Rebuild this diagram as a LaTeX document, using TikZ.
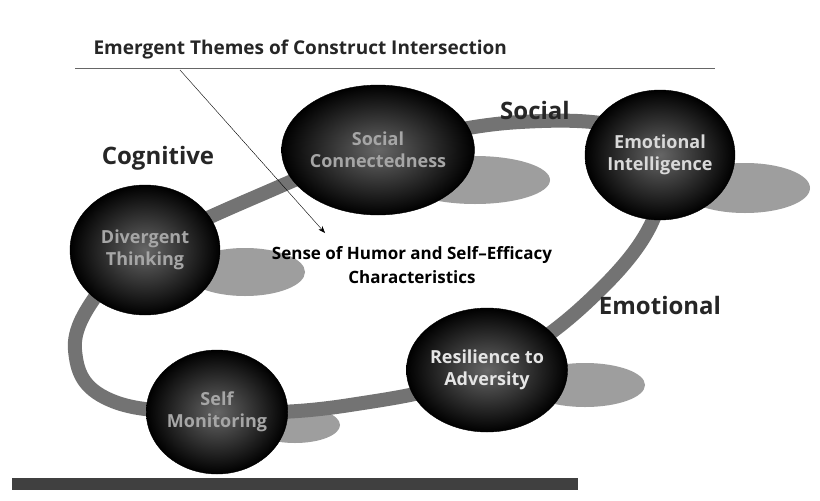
\documentclass[tikz,border=0pt]{standalone}
\usepackage{fontspec}
\setmainfont{Open Sans}
\tikzset{
  ball/.style={ellipse,minimum width=150pt,minimum height=130pt,inner sep=0pt,inner color=gray!80!black,outer color=black,draw=black,align=center,font=\fontsize{18}{22}\selectfont\bfseries},
  shade/.style={fill=black!38},
  lbl/.style={font=\fontsize{24}{26}\selectfont\bfseries,text=black!85}
}
\usetikzlibrary{shapes.geometric,arrows.meta}
\begin{document}
\begin{tikzpicture}[x=1pt,y=-1pt]
\useasboundingbox (0,0) rectangle (820,501);
\fill[white] (0,0) rectangle (820,501);
% shadows
\fill[shade] (475,180) ellipse (75 and 24);
\fill[shade] (745,188) ellipse (65 and 25);
\fill[shade] (245,272) ellipse (60 and 24);
\fill[shade] (585,385) ellipse (60 and 22);
\fill[shade] (295,425) ellipse (45 and 18);
% ring
\draw[line width=14pt,black!55] plot[smooth cycle,tension=0.7] coordinates {(145,250) (260,195) (378,150) (520,122) (640,135) (660,200) (600,290) (487,370) (350,405) (217,412) (110,400) (75,350) (100,290)};
\fill[black!75] (12,478) rectangle (578,490);
\node[ball,text=black!35] (sc) at (378,150) {Social\\Connectedness};
\node[ball,text=black!15] (ei) at (660,155) {Emotional\\Intelligence};
\node[ball,text=black!35] (dt) at (145,250) {Divergent\\Thinking};
\node[ball,text=black!35,minimum width=140pt,minimum height=124pt] (sm) at (217,412) {Self\\Monitoring};
\node[ball,text=black!10,minimum width=144pt,minimum height=124pt] (ra) at (487,370) {Resilience to\\Adversity};
\node[font=\fontsize{19}{21}\selectfont\bfseries,anchor=west,text=black!85] (t) at (90,50) {Emergent Themes of Construct Intersection};
\draw[black!60] (75,68) -- (715,68);
\node[font=\fontsize{17}{24}\selectfont\bfseries,align=center] (c) at (412,265) {Sense of Humor and Self–Efficacy\\Characteristics};
\coordinate (a0) at (180,70);
\draw[-{Stealth[length=7pt]},black] (a0) -- (325,233);
\node[lbl] (cog) at (158,158) {Cognitive};
\node[lbl] (soc) at (535,110) {Social};
\node[lbl] (emo) at (660,305) {Emotional};
\end{tikzpicture}
\end{document}
